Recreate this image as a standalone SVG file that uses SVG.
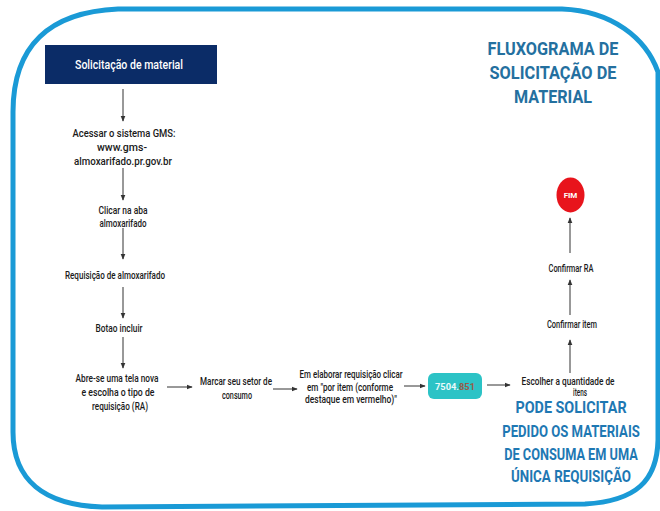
<svg xmlns="http://www.w3.org/2000/svg" width="660" height="511" viewBox="0 0 660 511">
  <defs>
    <marker id="head" viewBox="0 0 8 8" refX="7" refY="4" markerWidth="6" markerHeight="6" orient="auto" markerUnits="userSpaceOnUse">
      <path d="M0,0.8 L8,4 L0,7.2 Z" fill="#333"/>
    </marker>
    <style>
      .frame { fill: none; stroke: #1a9ad6; stroke-width: 5; }
      .step { font-family: Roboto, "Liberation Sans", sans-serif; font-size: 10px; font-weight: 500; fill: #1a1a1a; text-anchor: middle; }
      .title { font-family: Roboto, "Liberation Sans", sans-serif; font-weight: bold; font-size: 18px; fill: #24709f; text-anchor: middle; }
      .note { font-family: Roboto, "Liberation Sans", sans-serif; font-weight: bold; font-size: 17px; fill: #1e78b3; text-anchor: middle; }
      .conn line { stroke: #333; stroke-width: 1; marker-end: url(#head); }
    </style>
  </defs>

  <rect width="660" height="511" fill="#ffffff"/>

  <!-- rounded outer frame -->
  <path class="frame" d="M13,432 L13,112 C13,45 50,12 118,9 L562,9 C612,11 646,38 658,72 L658,440 C657,481 636,501 585,504 L102,507 C44,505 13,480 13,432 Z"/>

  <!-- heading -->
  <g id="title">
    <text class="title" x="553" y="55" textLength="131" lengthAdjust="spacingAndGlyphs">FLUXOGRAMA DE</text>
    <text class="title" x="553" y="79" textLength="127" lengthAdjust="spacingAndGlyphs">SOLICITAÇÃO DE</text>
    <text class="title" x="553" y="103" textLength="78" lengthAdjust="spacingAndGlyphs">MATERIAL</text>
  </g>

  <!-- connectors -->
  <g id="connectors" class="conn">
    <line x1="123" y1="89" x2="123" y2="121"/>
    <line x1="123" y1="168" x2="123" y2="200"/>
    <line x1="123" y1="228" x2="123" y2="259"/>
    <line x1="123" y1="287" x2="123" y2="318"/>
    <line x1="123" y1="337" x2="123" y2="368"/>
    <line x1="167" y1="387" x2="192" y2="387"/>
    <line x1="273" y1="389" x2="297" y2="389"/>
    <line x1="404" y1="386" x2="425" y2="386"/>
    <line x1="487" y1="385" x2="510" y2="385"/>
    <line x1="570" y1="373" x2="570" y2="340"/>
    <line x1="570" y1="315" x2="570" y2="280"/>
    <line x1="570" y1="253" x2="570" y2="218"/>
  </g>

  <g id="start">
    <rect x="45" y="45" width="172" height="39" fill="#0b2c67"/>
    <text x="129" y="69" font-family="Roboto, 'Liberation Sans', sans-serif" font-size="12" font-weight="500" fill="#ffffff" text-anchor="middle" textLength="108" lengthAdjust="spacingAndGlyphs">Solicitação de material</text>
  </g>

  <g id="access">
    <text class="step" x="124" y="137" textLength="103" lengthAdjust="spacingAndGlyphs">Acessar o sistema GMS:</text>
    <text class="step" x="122" y="151" textLength="50" lengthAdjust="spacingAndGlyphs">www.gms-</text>
    <text class="step" x="123" y="165" textLength="98" lengthAdjust="spacingAndGlyphs">almoxarifado.pr.gov.br</text>
  </g>

  <g id="tab">
    <text class="step" x="123" y="214" textLength="49" lengthAdjust="spacingAndGlyphs">Clicar na aba</text>
    <text class="step" x="123" y="227" textLength="47" lengthAdjust="spacingAndGlyphs">almoxarifado</text>
  </g>

  <g id="requisition">
    <text class="step" x="115" y="279" textLength="100" lengthAdjust="spacingAndGlyphs">Requisição de almoxarifado</text>
  </g>

  <g id="include">
    <text class="step" x="119" y="332" textLength="47" lengthAdjust="spacingAndGlyphs">Botao incluir</text>
  </g>

  <g id="new-screen">
    <text class="step" x="117" y="382" textLength="83" lengthAdjust="spacingAndGlyphs">Abre-se uma tela nova</text>
    <text class="step" x="118" y="396" textLength="73" lengthAdjust="spacingAndGlyphs">e escolha o tipo de</text>
    <text class="step" x="120" y="410" textLength="56" lengthAdjust="spacingAndGlyphs">requisição (RA)</text>
  </g>

  <g id="sector">
    <text class="step" x="236" y="385" textLength="72" lengthAdjust="spacingAndGlyphs">Marcar seu setor de</text>
    <text class="step" x="237" y="399" textLength="30" lengthAdjust="spacingAndGlyphs">consumo</text>
  </g>

  <g id="per-item">
    <text class="step" x="351" y="378" textLength="103" lengthAdjust="spacingAndGlyphs">Em elaborar requisição clicar</text>
    <text class="step" x="350" y="391" textLength="86" lengthAdjust="spacingAndGlyphs">em "por item (conforme</text>
    <text class="step" x="351" y="403" textLength="92" lengthAdjust="spacingAndGlyphs">destaque em vermelho)"</text>
  </g>

  <g id="code">
    <rect x="428" y="373" width="54" height="26" rx="6" fill="#2cc3c6"/>
    <text x="455" y="390" font-family="Roboto, 'Liberation Sans', sans-serif" font-size="9" font-weight="bold" text-anchor="middle" fill="#eafafa" textLength="40" lengthAdjust="spacingAndGlyphs">7504.<tspan fill="#9a5a48">851</tspan></text>
  </g>

  <g id="quantity">
    <text class="step" x="568" y="385" textLength="93" lengthAdjust="spacingAndGlyphs">Escolher a quantidade de</text>
    <text class="step" x="580" y="396" textLength="14" lengthAdjust="spacingAndGlyphs">itens</text>
  </g>

  <g id="confirm-item">
    <text class="step" x="572" y="328" textLength="50" lengthAdjust="spacingAndGlyphs">Confirmar item</text>
  </g>

  <g id="confirm-ra">
    <text class="step" x="571" y="272" textLength="45" lengthAdjust="spacingAndGlyphs">Confirmar RA</text>
  </g>

  <g id="end">
    <ellipse cx="570.5" cy="195" rx="14" ry="17.5" fill="#e8141c"/>
    <text x="570.5" y="198" font-family="Roboto, 'Liberation Sans', sans-serif" font-size="8" font-weight="bold" fill="#ffffff" text-anchor="middle">FIM</text>
  </g>

  <!-- condensed bold note, narrowed horizontally -->
  <g id="note" transform="translate(571,0) scale(0.8,1)">
    <text class="note" x="0" y="413" textLength="139" lengthAdjust="spacingAndGlyphs">PODE SOLICITAR</text>
    <text class="note" x="0" y="437" textLength="172" lengthAdjust="spacingAndGlyphs">PEDIDO OS MATERIAIS</text>
    <text class="note" x="0" y="460" textLength="167" lengthAdjust="spacingAndGlyphs">DE CONSUMA EM UMA</text>
    <text class="note" x="0" y="482" textLength="150" lengthAdjust="spacingAndGlyphs">ÚNICA REQUISIÇÃO</text>
  </g>
</svg>
